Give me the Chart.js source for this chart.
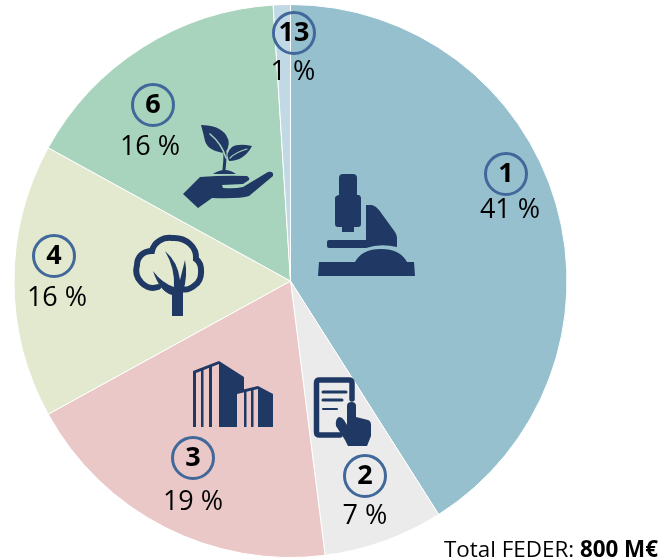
<!DOCTYPE html>
<html>
<head>
<meta charset="utf-8">
<style>
  html, body { margin: 0; padding: 0; background: #fff; overflow: hidden; }
  canvas { display: block; }
</style>
</head>
<body>
<canvas id="pie_Chart" width="662" height="560"></canvas>
<script src="https://cdn.jsdelivr.net/npm/chart.js@4"></script>
<script>
const categories = ['1', '2', '3', '4', '6', '13'];
const shares = [41, 7, 19, 16, 16, 1];
const totalLabel = 'Total FEDER: ';
const totalValue = '800 M€';

const sliceColors = ['#97c0ce', '#ebebeb', '#ebc8c8', '#e2e9ce', '#a8d3bc', '#c0d9e5'];
const ringColor = '#41689a';
const iconColor = '#203864';
const labelFont = '"Open Sans", sans-serif';

// where the badge and the percent sit for each slice, hand placed like the original
const badgeSpots = [
  { cx: 506, cy: 174, tx: 510, ty: 210 },
  { cx: 365, cy: 476, tx: 365, ty: 516 },
  { cx: 193, cy: 458, tx: 193, ty: 502 },
  { cx: 54, cy: 256, tx: 57, ty: 298 },
  { cx: 153, cy: 105, tx: 150, ty: 147 },
  { cx: 294, cy: 33, tx: 293, ty: 72 }
];

const fillIcons = [
  // microscope
  'M343 174 L353 174 Q357 174 357 178 L357 195 L359 195 Q361 196 361 198 L361 224 Q361 227 358 227 L354 227 L354 232 L342 232 L342 227 L338 227 Q335 227 335 224 L335 198 Q335 196 339 195 L339 178 Q339 174 343 174 Z',
  'M366 205 L372 205 Q376 206 379 210 L395 232 Q397 235 397 238 L397 247 Q380 243 366 248 L329 248 Q327 248 327 246 L327 242 Q327 240 329 240 L366 240 Z',
  'M319 262 L355 262 Q362 249 381 249 Q400 249 407 262 L414 262 L415 276 L318 276 Z',
  // hand on the tablet
  'M347 406 Q347 402 351.5 402 Q356 402 356 406 L356 417 L368 420 Q371 421 371 425 L371 436 L367 446 L348 446 L345 440 L336 426 Q335 419 339 417 Q342 417 344 420 L347 425 Z',
  // buildings
  'M219 361 L244 377 L244 390 L237 391.5 L237 427 L219 427 Z',
  'M258 386 L273 394 L273 427 L258 427 Z',
  'M193 371 L219 361 L219 364 L196 373 L196 427 L193 427 Z',
  'M201 370 L203.5 369 L203.5 427 L201 427 Z',
  'M209 366 L212 365 L212 427 L209 427 Z',
  'M237 391 L258 386 L258 389 L237 394 Z',
  'M244 390 L246.5 390 L246.5 427 L244 427 Z',
  'M251 388 L253.5 388 L253.5 427 L251 427 Z',
  // tree trunk and branches
  'M165 251 Q178 262 180 280 L185 260 Q188 275 183 292 L183 316 L172 316 L172 295 Q160 292 153 271 Q162 283 174 287 Q175 268 165 251 Z',
  // hand with plant
  'M183 194 L200 177 Q225 175 247 176 Q250 178 249 180 L243 184 L222 185 L223 188 Q235 189 243 187 L268 172 Q274 171 273 176 L249 196 Q240 199 212 198 L198 208 Z',
  'M213 174 Q225 166 236 174 Z',
  'M201 125 Q219 125 226 135 Q232 144 225 153 Q208 151 205 141 Q203 132 201 125 Z',
  'M252 146 Q238 143 232 147 Q225 153 229 161 Q244 161 252 146 Z'
];

const strokeIcons = [
  { d: 'M316.5 402 L316.5 383 Q316.5 380 319.5 380 L349 380 Q352 380 352 383 L352 399 M316.5 402 L316.5 432 Q316.5 435 319.5 435 L340 435', w: 5.5, color: iconColor },
  { d: 'M323 392 L346 392', w: 3, color: iconColor },
  { d: 'M323 400 L342 400', w: 3, color: iconColor },
  { d: 'M323 409 L337 409', w: 2, color: iconColor },
  { d: 'M158 287 C146 291 133 279 137 265 C137 257 143 251 152 251 C154 242 163 237 172 238 C186 237 197 247 196 259 C203 264 203 280 195 285 C190 290 184 290 180 289', w: 6, color: iconColor },
  { d: 'M225 152 Q225 162 224 170', w: 3, color: iconColor },
  { d: 'M210 134 Q222 144 226 158', w: 1.5, color: '#a8d3bc' },
  { d: 'M247 149 Q236 152 230 158', w: 1.2, color: '#a8d3bc' }
];

const overlayPlugin = {
  id: 'overlay',
  afterDatasetsDraw(chart) {
    const ctx = chart.ctx;
    ctx.save();

    fillIcons.forEach(d => {
      ctx.fillStyle = iconColor;
      ctx.fill(new Path2D(d));
    });
    ctx.lineCap = 'round';
    strokeIcons.forEach(s => {
      ctx.strokeStyle = s.color;
      ctx.lineWidth = s.w;
      ctx.stroke(new Path2D(s.d));
    });

    ctx.textAlign = 'center';
    ctx.textBaseline = 'middle';
    categories.forEach((cat, i) => {
      const spot = badgeSpots[i];
      ctx.beginPath();
      ctx.arc(spot.cx, spot.cy, 20.5, 0, Math.PI * 2);
      ctx.strokeStyle = ringColor;
      ctx.lineWidth = 3;
      ctx.stroke();
      ctx.fillStyle = '#000';
      ctx.font = 'bold 27px ' + labelFont;
      ctx.fillText(cat, spot.cx, spot.cy);
      ctx.font = '27px ' + labelFont;
      ctx.fillText(shares[i] + ' %', spot.tx, spot.ty);
    });

    ctx.textAlign = 'left';
    ctx.textBaseline = 'alphabetic';
    ctx.font = '22.4px ' + labelFont;
    ctx.fillText(totalLabel, 444, 557);
    const w = ctx.measureText(totalLabel).width;
    ctx.font = 'bold 22.4px ' + labelFont;
    ctx.fillText(totalValue, 444 + w, 557);
    ctx.restore();
  }
};

new Chart(document.getElementById('pie_Chart').getContext('2d'), {
  type: 'pie',
  data: {
    labels: categories,
    datasets: [{
      data: shares,
      backgroundColor: sliceColors,
      borderColor: '#ffffff',
      borderWidth: 1
    }]
  },
  options: {
    responsive: false,
    animation: false,
    layout: { padding: { left: 13, right: 94, top: 4, bottom: 2 } },
    plugins: {
      legend: { display: false },
      tooltip: { enabled: false }
    }
  },
  plugins: [overlayPlugin]
});
</script>
</body>
</html>
